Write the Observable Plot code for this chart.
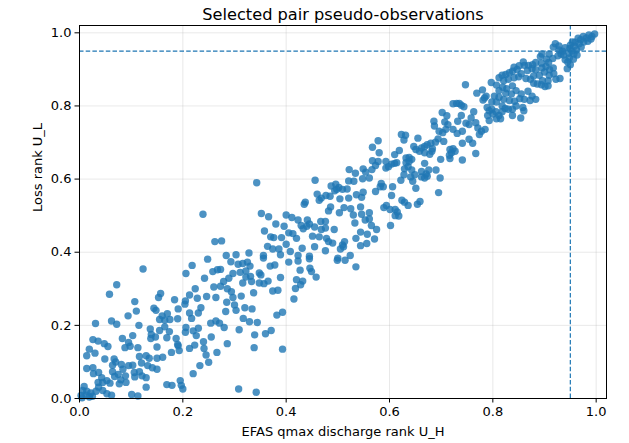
<!DOCTYPE html>
<html>
<head>
<meta charset="utf-8">
<script src="https://cdn.jsdelivr.net/npm/d3@7"></script>
<script src="https://cdn.jsdelivr.net/npm/@observablehq/plot@0.6"></script>
<style>
  html, body { margin: 0; padding: 0; background: #fff; }
  #chart svg { display: block; }
</style>
</head>
<body>
<div id="chart"></div>
<script>
const title = "Selected pair pseudo-observations";
const xLabel = "EFAS qmax discharge rank U_H";
const yLabel = "Loss rank U_L";
const xTicks = [0, 0.2, 0.4, 0.6, 0.8, 1.0];
const yTicks = [0, 0.2, 0.4, 0.6, 0.8, 1.0];
const threshold = 0.95;

// pseudo-observations [U_H, U_L], grouped by region
const lowRanks = [
  [.123,.354],[.218,.364],[.248,.381],[.267,.352],[.206,.342],[.242,.329],[.258,.347],[.072,.311],[.058,.285],
  [.260,.305],[.224,.300],[.157,.287],[.153,.276],[.184,.270],[.205,.267],[.213,.283],[.228,.274],[.246,.279],
  [.264,.276],[.107,.265],[.191,.245],[.144,.247],[.148,.241],[.110,.239],[.094,.226],[.170,.232],[.160,.226],
  [.155,.216],[.165,.214],[.175,.216],[.190,.218],[.204,.258],[.213,.234],[.230,.234],[.235,.248],[.217,.219],
  [.254,.206],[.264,.212],[.062,.212],[.072,.203],[.031,.205],[.115,.200],[.137,.190],[.139,.175],[.155,.186],
  [.165,.196],[.174,.183],[.169,.166],[.147,.168],[.138,.164],[.083,.164],[.095,.153],[.103,.172],[.187,.164],
  [.190,.148],[.206,.194],[.205,.181],[.220,.185],[.230,.192],[.226,.172],[.026,.161],[.036,.157],[.048,.150],
  [.055,.142],[.019,.135],[.014,.117],[.030,.124],[.088,.139],[.098,.143],[.113,.139],[.116,.115],[.129,.117],
  [.150,.141],[.161,.113],[.178,.126],[.193,.131],[.191,.144],[.213,.137],[.223,.146],[.240,.155],[.255,.168],
  [.241,.137],[.245,.119],[.266,.126],[.250,.099],[.233,.090],[.220,.068],[.135,.110],[.150,.110],[.049,.108],
  [.067,.108],[.070,.100],[.064,.091],[.081,.093],[.084,.080],[.095,.090],[.103,.091],[.120,.097],[.132,.090],
  [.141,.084],[.150,.080],[.121,.062],[.107,.059],[.129,.057],[.014,.082],[.026,.084],[.027,.068],[.037,.071],
  [.043,.057],[.036,.044],[.045,.044],[.053,.049],[.059,.042],[.064,.073],[.075,.066],[.080,.051],[.090,.044],
  [.077,.040],[.068,.060],[.089,.062],[.106,.071],[.116,.073],[.009,.033],[.006,.022],[.014,.020],[.022,.015],
  [.013,.009],[.025,.006],[.037,.031],[.045,.022],[.053,.013],[.062,.009],[.032,.020],[.129,.031],[.169,.038],
  [.179,.036],[.195,.049],[.197,.036],[.200,.026],[.101,.011],[.113,.007],[.003,.008],[.005,.002],[.019,.004],
  [.239,.504],[.262,.429]
];

const midRanks = [
  [.293,.374],[.307,.367],[.316,.369],[.325,.373],[.330,.362],[.356,.384],[.369,.362],[.378,.365],[.405,.373],
  [.423,.376],[.445,.382],[.499,.378],[.514,.378],[.535,.360],[.273,.353],[.297,.342],[.311,.345],[.322,.349],
  [.348,.343],[.351,.338],[.331,.334],[.322,.332],[.289,.329],[.279,.320],[.273,.307],[.286,.300],[.294,.292],
  [.316,.316],[.333,.320],[.348,.316],[.357,.314],[.365,.321],[.389,.331],[.427,.351],[.446,.356],[.449,.347],
  [.458,.332],[.420,.325],[.432,.321],[.428,.311],[.418,.301],[.415,.272],[.374,.294],[.384,.296],[.337,.289],
  [.297,.276],[.313,.280],[.285,.263],[.300,.256],[.303,.241],[.320,.248],[.334,.245],[.283,.238],[.393,.236],
  [.382,.228],[.317,.219],[.329,.210],[.344,.208],[.271,.206],[.280,.194],[.309,.188],[.339,.174],[.360,.177],
  [.371,.186],[.286,.150],[.338,.139],[.393,.135],[.308,.026],[.342,.017],
  [.343,.590],[.522,.626],[.534,.616],[.456,.597],[.521,.595],[.531,.594],[.496,.586],[.487,.581],[.502,.577],
  [.509,.572],[.498,.572],[.494,.568],[.518,.573],[.460,.559],[.477,.555],[.468,.548],[.485,.553],[.504,.546],
  [.521,.548],[.536,.557],[.464,.542],[.437,.537],[.435,.531],[.486,.524],[.482,.513],[.512,.522],[.525,.519],
  [.503,.508],[.530,.502],[.352,.506],[.366,.497],[.400,.502],[.411,.495],[.423,.488],[.441,.488],[.467,.484],
  [.476,.484],[.380,.477],[.396,.471],[.429,.473],[.440,.471],[.433,.464],[.445,.477],[.455,.469],[.468,.462],
  [.476,.466],[.493,.462],[.533,.480],[.358,.458],[.405,.453],[.413,.451],[.370,.442],[.376,.440],[.391,.440],
  [.420,.438],[.451,.444],[.464,.442],[.478,.438],[.482,.429],[.490,.425],[.509,.420],[.513,.429],[.535,.438],
  [.275,.431],[.364,.416],[.374,.409],[.386,.409],[.400,.422],[.408,.402],[.431,.411],[.455,.415],[.476,.404],
  [.505,.409],[.511,.415],[.284,.391],[.303,.393],[.328,.398],[.356,.391],[.389,.393],[.423,.391],[.445,.389],
  [.500,.384],[.524,.391]
];

const upperRanks = [
  [.686,.758],[.687,.745],[.707,.756],[.713,.749],[.709,.736],[.732,.758],[.748,.753],[.754,.749],[.767,.754],
  [.793,.760],[.807,.765],[.741,.731],[.731,.725],[.723,.736],[.703,.727],[.696,.731],[.771,.740],[.778,.731],
  [.785,.736],[.774,.722],[.623,.722],[.631,.720],[.628,.707],[.655,.712],[.694,.710],[.689,.701],[.705,.703],
  [.754,.709],[.761,.698],[.741,.698],[.578,.705],[.567,.687],[.580,.672],[.619,.678],[.610,.667],[.647,.689],
  [.651,.681],[.662,.685],[.668,.689],[.673,.694],[.680,.698],[.683,.683],[.658,.676],[.668,.672],[.678,.668],
  [.682,.676],[.717,.681],[.723,.683],[.727,.676],[.720,.672],[.716,.665],[.767,.670],[.567,.650],[.578,.648],
  [.593,.648],[.604,.641],[.610,.643],[.614,.645],[.632,.658],[.638,.659],[.643,.654],[.632,.645],[.638,.648],
  [.668,.643],[.699,.654],[.717,.656],[.741,.652],[.549,.628],[.554,.619],[.566,.626],[.573,.637],[.593,.630],
  [.598,.634],[.629,.628],[.636,.634],[.643,.625],[.662,.621],[.676,.625],[.690,.625],[.671,.614],[.673,.608],
  [.668,.603],[.662,.606],[.649,.612],[.641,.606],[.622,.597],[.628,.612],[.698,.603],[.548,.601],[.561,.603],
  [.584,.588],[.588,.579],[.582,.579],[.606,.579],[.645,.594],[.651,.575],[.549,.564],[.546,.550],[.573,.566],
  [.604,.555],[.624,.542],[.629,.537],[.654,.531],[.659,.539],[.695,.563],[.636,.528],[.544,.524],[.561,.508],
  [.589,.522],[.594,.528],[.601,.517],[.611,.517],[.615,.510],[.611,.500],[.618,.499],[.546,.504],[.553,.488],
  [.561,.491],[.565,.473],[.575,.462],[.602,.473],[.544,.455],[.557,.449],[.571,.436],[.556,.424],[.544,.418],
  [.747,.858],[.769,.835],[.780,.844],[.797,.864],[.807,.857],[.787,.827],[.781,.816],[.784,.822],[.803,.827],
  [.798,.811],[.807,.811],[.723,.806],[.730,.807],[.735,.807],[.739,.802],[.744,.798],[.702,.782],[.711,.773],
  [.739,.774],[.763,.784],[.789,.796],[.793,.787],[.798,.791],[.800,.778],[.790,.774],[.806,.784],[.758,.767]
];

const topRanks = [
  [.997,.997],[.992,.990],[.986,.994],[.981,.986],[.975,.990],[.970,.981],[.965,.985],[.976,.975],[.984,.977],
  [.990,.983],[.967,.970],[.959,.974],[.954,.975],[.950,.966],[.958,.963],[.971,.961],[.962,.953],[.953,.950],
  [.949,.957],[.957,.942],[.963,.939],[.948,.931],[.956,.928],[.945,.920],[.950,.913],[.944,.902],[.940,.926],
  [.937,.939],[.935,.950],[.928,.953],[.932,.942],[.926,.937],[.921,.970],[.928,.964],[.917,.961],[.940,.959],
  [.947,.944],[.895,.942],[.892,.935],[.909,.942],[.904,.928],[.916,.930],[.908,.919],[.894,.917],[.883,.919],
  [.877,.913],[.869,.911],[.861,.911],[.859,.920],[.851,.910],[.847,.900],[.841,.906],[.838,.895],[.832,.891],
  [.825,.886],[.818,.884],[.812,.877],[.821,.869],[.830,.873],[.841,.877],[.850,.880],[.855,.888],[.867,.897],
  [.876,.902],[.883,.899],[.895,.904],[.903,.908],[.910,.899],[.917,.904],[.918,.888],[.909,.884],[.900,.893],
  [.890,.884],[.879,.882],[.873,.873],[.864,.875],[.879,.862],[.886,.860],[.894,.858],[.901,.853],[.907,.855],
  [.922,.873],[.930,.875],[.907,.869],[.896,.869],[.838,.855],[.827,.847],[.819,.851],[.812,.842],[.825,.835],
  [.836,.833],[.845,.842],[.855,.833],[.868,.840],[.876,.827],[.883,.818],[.872,.815],[.861,.818],[.852,.820],
  [.842,.813],[.832,.815],[.821,.818],[.812,.824],[.818,.800],[.824,.793],[.830,.791],[.838,.791],[.845,.800],
  [.858,.796],[.860,.787],[.838,.774],[.854,.767],[.812,.774],[.818,.784],[.815,.765]
];

const points = [...lowRanks, ...midRanks, ...upperRanks, ...topRanks];
const blue = "#1f77b4";

const chart = Plot.plot({
  width: 629,
  height: 443,
  marginLeft: 79,
  marginRight: 23,
  marginTop: 25,
  marginBottom: 45,
  style: { fontFamily: "'DejaVu Sans', sans-serif", fontSize: "13px", background: "#fff", color: "#000" },
  x: { domain: [0, 1.02], label: null },
  y: { domain: [0, 1.02], label: null },
  marks: [
    Plot.gridX(xTicks, { stroke: "#b0b0b0", strokeOpacity: 0.35, strokeWidth: 0.8 }),
    Plot.gridY(yTicks, { stroke: "#b0b0b0", strokeOpacity: 0.35, strokeWidth: 0.8 }),
    Plot.dot(points, { x: d => d[0], y: d => d[1], r: 3.7, fill: blue, fillOpacity: 0.8, stroke: "none" }),
    Plot.ruleX([threshold], { stroke: blue, strokeWidth: 1.2, strokeDasharray: "4.5,2.2" }),
    Plot.ruleY([threshold], { stroke: blue, strokeWidth: 1.2, strokeDasharray: "4.5,2.2" }),
    Plot.frame({ stroke: "#000", strokeWidth: 1 }),
    Plot.axisX(xTicks, { tickFormat: d3.format(".1f"), tickSize: 4.5, tickPadding: 3.5, label: null, fontSize: 13 }),
    Plot.axisY(yTicks, { tickFormat: d3.format(".1f"), tickSize: 4.5, tickPadding: 3.5, label: null, fontSize: 13 }),
    Plot.text([title], { frameAnchor: "top", lineAnchor: "middle", dy: -11, fontSize: 16.2, fill: "#000" }),
    Plot.text([xLabel], { frameAnchor: "bottom", lineAnchor: "middle", dy: 33, fontSize: 13, fill: "#000" }),
    Plot.text([yLabel], { frameAnchor: "left", lineAnchor: "middle", dx: -42, rotate: -90, fontSize: 13, fill: "#000" })
  ]
});
document.getElementById("chart").appendChild(chart);
</script>
</body>
</html>
